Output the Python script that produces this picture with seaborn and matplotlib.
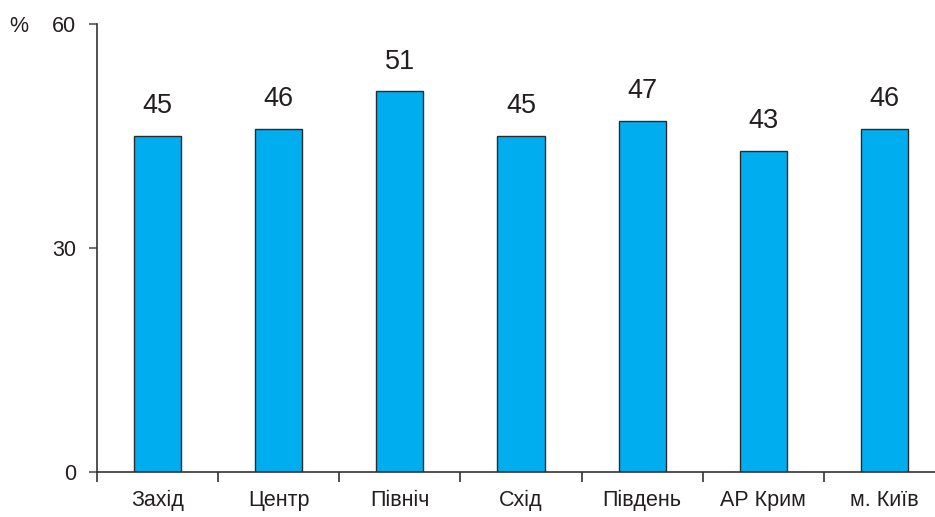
import matplotlib
matplotlib.use("Agg")
import matplotlib.pyplot as plt
import seaborn as sns
import pandas as pd
import numpy as np

regions = ["Захід", "Центр", "Північ", "Схід", "Південь", "АР Крим", "м. Київ"]
shares = [45, 46, 51, 45, 47, 43, 46]
y_ticks = [0, 30, 60]

sns.set_theme(style="white")
plt.rcParams["font.family"] = ["Liberation Sans", "DejaVu Sans"]

text_color = "#231f20"
bar_color = "#00aeef"

df = pd.DataFrame({"region": regions, "share": shares})

fig = plt.figure(figsize=(9.35, 5.17), dpi=100)
ax = fig.add_axes([97 / 935, 45 / 517, 848 / 935, 448 / 517])

sns.barplot(data=df, x="region", y="share", color=bar_color, width=0.39,
            edgecolor="#2b2b2b", linewidth=1.0, saturation=1, ax=ax)

ax.set_xlim(-0.5, len(regions) - 0.5)
ax.set_ylim(0, 60)
ax.set_yticks(y_ticks)
ax.set_yticklabels([str(v) for v in y_ticks], fontsize=15.5, color=text_color)
ax.tick_params(axis="y", left=True, direction="out", length=6, width=1.2,
               color="#555555", pad=9)

# category labels at bar centres, tick marks between categories
ax.set_xticks(range(len(regions)))
ax.set_xticklabels(regions, fontsize=15.5, color=text_color)
ax.tick_params(axis="x", which="major", bottom=True, length=0, pad=13)
ax.set_xticks(np.arange(-0.5, len(regions), 1.0), minor=True)
ax.tick_params(axis="x", which="minor", bottom=True, direction="out", length=7,
               width=1.2, color="#333333")

ax.set_xlabel("")
ax.set_ylabel("")

for side in ["top", "right"]:
    ax.spines[side].set_visible(False)
for side in ["left", "bottom"]:
    ax.spines[side].set_color("#333333")
    ax.spines[side].set_linewidth(1.2)

for i, v in enumerate(shares):
    ax.annotate(str(v), (i, v), xytext=(0, 12), textcoords="offset points",
                ha="center", va="bottom", fontsize=19.5, color=text_color)

fig.text(9 / 935, 1 - 26 / 517, "%", fontsize=15.5, color=text_color,
         ha="left", va="center")

fig.savefig("out.png", dpi=100)
